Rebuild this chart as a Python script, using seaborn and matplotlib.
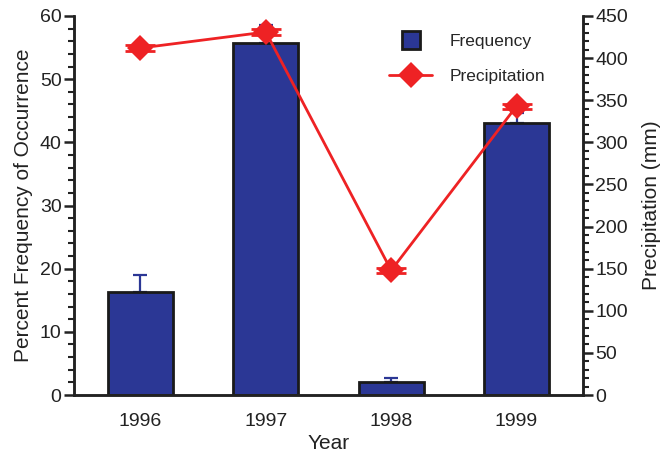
import numpy as np
import pandas as pd
import matplotlib
matplotlib.use("Agg")
import matplotlib.pyplot as plt
from matplotlib.ticker import MultipleLocator
from matplotlib.lines import Line2D
from matplotlib.patches import Patch, Rectangle
from matplotlib.legend_handler import HandlerPatch
import seaborn as sns

years = ["1996", "1997", "1998", "1999"]
frequency = [16.3, 55.8, 2.1, 43.0]
frequency_err = [2.7, 2.8, 0.6, 1.7]
precipitation = [412, 431, 148, 343]
precipitation_err = [3, 3, 3, 3]

BLUE = "#2B3795"
RED = "#EE2224"
INK = "#222222"

sns.set_theme(style="ticks")
plt.rcParams["font.family"] = ["Liberation Sans", "DejaVu Sans"]

df = pd.DataFrame({"Year": years, "Frequency": frequency})

fig = plt.figure(figsize=(6.6, 4.57), dpi=100)
ax = fig.add_axes([74 / 660, 1 - 395 / 457, (583 - 74) / 660, (395 - 16) / 457])

sns.barplot(data=df, x="Year", y="Frequency", color=BLUE, saturation=1,
            width=0.52, edgecolor="#1a1a1a", linewidth=2, errorbar=None, ax=ax, zorder=2)
pos = np.arange(len(years))
ax.errorbar(pos, frequency, yerr=[np.zeros(len(years)), frequency_err], fmt="none",
            ecolor=BLUE, elinewidth=1.6, capsize=5, capthick=1.6, zorder=1)

ax.set_xlim(-0.53, 3.53)
ax.set_ylim(0, 60)
ax.yaxis.set_major_locator(MultipleLocator(10))
ax.yaxis.set_minor_locator(MultipleLocator(2))
ax.tick_params(axis="y", which="major", length=7, width=1.8, pad=2, labelsize=14, colors=INK)
ax.tick_params(axis="y", which="minor", length=4.5, width=1.5, colors=INK)
ax.tick_params(axis="x", length=0, labelsize=14, pad=13, colors=INK)
ax.set_xlabel("Year", fontsize=15, color=INK, labelpad=3)
ax.set_ylabel("Percent Frequency of Occurrence", fontsize=15, color=INK, labelpad=5)
for s in ["left", "bottom", "right"]:
    ax.spines[s].set_linewidth(1.8)
    ax.spines[s].set_color(INK)
ax.spines["top"].set_visible(False)

ax2 = ax.twinx()
sns.lineplot(x=pos, y=precipitation, color=RED, linewidth=2, marker="D",
             markersize=13, markeredgewidth=0, ax=ax2, zorder=3)
ax2.errorbar(pos, precipitation, yerr=precipitation_err, fmt="none", ecolor=RED,
             elinewidth=2, capsize=11, capthick=2, zorder=3)
ax2.set_ylim(0, 450)
ax2.yaxis.set_major_locator(MultipleLocator(50))
ax2.yaxis.set_minor_locator(MultipleLocator(10))
ax2.tick_params(axis="y", which="major", length=7, width=1.8, pad=2, labelsize=14, colors=INK)
ax2.tick_params(axis="y", which="minor", length=4.5, width=1.5, colors=INK)
ax2.set_ylabel("Precipitation (mm)", fontsize=15, color=INK, labelpad=10)
for s in ["left", "bottom", "right"]:
    ax2.spines[s].set_linewidth(1.8)
    ax2.spines[s].set_color(INK)
ax2.spines["top"].set_visible(False)


class SquareHandler(HandlerPatch):
    def create_artists(self, legend, orig_handle, xdescent, ydescent,
                       width, height, fontsize, trans):
        side = 13
        sq = Rectangle((width / 2 - side / 2 - xdescent, height / 2 - side / 2 - ydescent),
                       side, side, facecolor=BLUE, edgecolor="#1a1a1a", linewidth=2,
                       transform=trans)
        return [sq]


freq_handle = Patch(facecolor=BLUE, edgecolor="#1a1a1a", linewidth=2, label="Frequency")
precip_handle = Line2D([0], [0], color=RED, linewidth=2, marker="D", markersize=13,
                       markeredgewidth=0, label="Precipitation")
ax2.legend(handles=[freq_handle, precip_handle], handler_map={Patch: SquareHandler()},
           loc="upper left", bbox_to_anchor=(0.605, 0.972), frameon=False, fontsize=12.5,
           handlelength=2.5, labelspacing=1.15, handletextpad=1.0, borderaxespad=0)

fig.savefig("out.png", dpi=100)
